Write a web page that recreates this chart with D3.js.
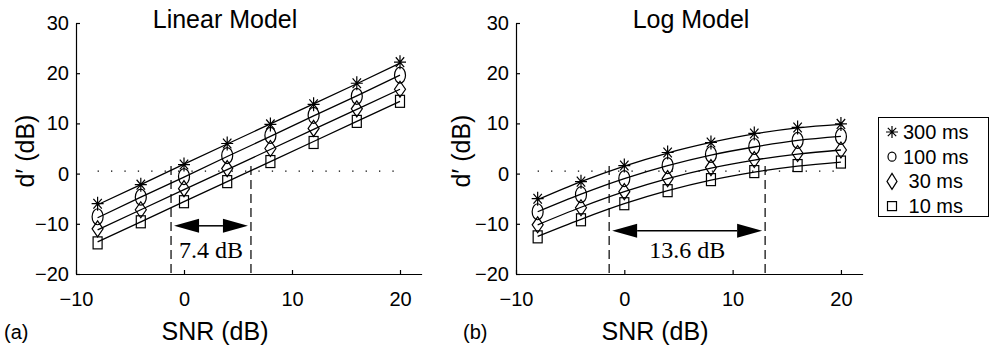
<!DOCTYPE html>
<html>
<head>
<meta charset="utf-8">
<script src="https://cdn.jsdelivr.net/npm/d3@7"></script>
<style>
body {margin:0; background:#fff;}
svg text {font-family:'Liberation Sans',Arial,Helvetica,sans-serif; fill:#000;}
.axis text {font-size:20px; font-family:'Liberation Sans',Arial,sans-serif;}
.axis path, .axis line {stroke:#000; stroke-width:1.2;}
.serif {font-family:'Liberation Serif','Times New Roman',serif !important;}
</style>
</head>
<body>
<svg id=fig width=990 height=350></svg>
<script>

// ---- data ----
var snr=[-8,-4,0,4,8,12,16,20];
var durations=['300 ms','100 ms',' 30 ms',' 10 ms'];
var marker_types=['star','circle','diamond','square'];
var x_ticks=[-10,0,10,20];
var y_ticks=[-20,-10,0,10,20,30];
var threshold=0.5;

// linear model: measured points and fitted lines
var lin_300=[-6.0,-2.2,1.8,6.0,9.8,13.8,18.0,22.2];
var lin_100=[-8.6,-4.7,-0.6,3.6,7.6,11.6,15.4,19.6];
var lin_30=[-11.0,-7.2,-3.0,1.0,5.0,9.0,12.9,16.8];
var lin_10=[-13.8,-9.6,-5.6,-1.6,2.4,6.2,10.4,14.4];
var lin_fit_300=[-6.2,-2.2,1.9,5.9,9.9,13.9,17.9,22.0];
var lin_fit_100=[-8.8,-4.7,-0.7,3.4,7.4,11.5,15.5,19.6];
var lin_fit_30=[-11.2,-7.2,-3.2,0.8,4.8,8.8,12.8,16.8];
var lin_fit_10=[-13.6,-9.6,-5.6,-1.6,2.4,6.4,10.4,14.4];
var lin_span=[-1.2,6.2];
var lin_span_label='7.4 dB';

// log model
var log_300=[-5.0,-1.6,1.6,4.2,6.2,8.0,9.2,9.9];
var log_100=[-7.6,-4.2,-1.0,1.6,3.8,5.4,6.6,7.4];
var log_30=[-10.2,-6.8,-3.6,-1.0,1.2,2.8,4.0,4.7];
var log_10=[-12.6,-9.2,-6.0,-3.4,-1.2,0.4,1.6,2.3];
var log_fit_300=[-5.2,-1.6,1.5,4.1,6.2,7.9,9.1,9.8];
var log_fit_100=[-7.6,-4.1,-1.0,1.6,3.7,5.3,6.6,7.4];
var log_fit_30=[-10.2,-6.7,-3.6,-1.0,1.1,2.7,3.9,4.7];
var log_fit_10=[-12.5,-9.1,-6.0,-3.4,-1.3,0.3,1.5,2.3];
var log_span=[-1.4,13.0];
var log_span_label='13.6 dB';

var svg=d3.select('#fig');
svg.append('rect').attr('width',990).attr('height',350).attr('fill','#fff');

draw_panel({
	left:76, right:421.6, title:'Linear Model', title_x:225, letter:'(a)', letter_x:4, ylabel_x:34, xlabel_x:215,
	series:[lin_300,lin_100,lin_30,lin_10], fits:[lin_fit_300,lin_fit_100,lin_fit_30,lin_fit_10],
	curve:d3.curveLinear, span:lin_span, span_label:lin_span_label, arrow_y:-10.4
});
draw_panel({
	left:516, right:862.6, title:'Log Model', title_x:691, letter:'(b)', letter_x:463, ylabel_x:470, xlabel_x:655,
	series:[log_300,log_100,log_30,log_10], fits:[log_fit_300,log_fit_100,log_fit_30,log_fit_10],
	curve:d3.curveMonotoneX, span:log_span, span_label:log_span_label, arrow_y:-11.4
});
draw_legend();

function draw_panel(P) {
	var g=svg.append('g');
	var xs=d3.scaleLinear().domain([-10,22]).range([P.left,P.right]);
	var ys=d3.scaleLinear().domain([-20,30]).range([274,23]);

	g.append('g').attr('class','axis')
		.attr('transform','translate(0,'+ys(-20)+')')
		.call(d3.axisBottom(xs).tickValues(x_ticks).tickSizeInner(-4).tickSizeOuter(0).tickPadding(18));
	g.append('g').attr('class','axis')
		.attr('transform','translate('+xs(-10)+',0)')
		.call(d3.axisLeft(ys).tickValues(y_ticks).tickSizeInner(-4).tickSizeOuter(0).tickPadding(7));

	// threshold (dotted)
	g.append('line')
		.attr('x1',xs(snr[0])).attr('x2',xs(snr[snr.length-1]))
		.attr('y1',ys(threshold)).attr('y2',ys(threshold))
		.attr('stroke','#000').attr('stroke-width',1.3)
		.attr('stroke-dasharray','1.3,12.1');

	// fitted lines
	var line=d3.line().x(function(d,i){return xs(snr[i]);}).y(function(d){return ys(d);}).curve(P.curve);
	for (var k=0; k<P.fits.length; k++) {
		g.append('path').attr('d',line(P.fits[k]))
			.attr('fill','none').attr('stroke','#000').attr('stroke-width',1.3);
	}
	// markers
	for (var k=0; k<P.series.length; k++) {
		for (var i=0; i<snr.length; i++) {
			draw_marker(g,marker_types[k],xs(snr[i]),ys(P.series[k][i]),false);
		}
	}

	// dashed boundaries and arrow
	for (var j=0; j<2; j++) {
		g.append('line')
			.attr('x1',xs(P.span[j])).attr('x2',xs(P.span[j]))
			.attr('y1',ys(1.5)).attr('y2',ys(-20))
			.attr('stroke','#000').attr('stroke-width',1.2)
			.attr('stroke-dasharray','9,5');
	}
	var ax1=xs(P.span[0])+3, ax2=xs(P.span[1])-3, ay=ys(P.arrow_y);
	var hl=25, hw=7;
	g.append('line').attr('x1',ax1+hl).attr('x2',ax2-hl).attr('y1',ay).attr('y2',ay)
		.attr('stroke','#000').attr('stroke-width',1.5);
	g.append('path').attr('d','M'+ax1+','+ay+'L'+(ax1+hl)+','+(ay-hw)+'L'+(ax1+hl)+','+(ay+hw)+'Z').attr('fill','#000');
	g.append('path').attr('d','M'+ax2+','+ay+'L'+(ax2-hl)+','+(ay-hw)+'L'+(ax2-hl)+','+(ay+hw)+'Z').attr('fill','#000');
	g.append('text').attr('class','serif')
		.attr('x',(xs(P.span[0])+xs(P.span[1]))/2).attr('y',258)
		.attr('text-anchor','middle').style('font-size','24px')
		.text(P.span_label);

	// text
	g.append('text').attr('x',P.title_x).attr('y',28).attr('text-anchor','middle')
		.style('font-size','25px').text(P.title);
	g.append('text').attr('x',P.xlabel_x).attr('y',340).attr('text-anchor','middle')
		.style('font-size','25px').text('SNR (dB)');
	g.append('text').attr('transform','translate('+P.ylabel_x+',151) rotate(-90)')
		.attr('text-anchor','middle').style('font-size','25px').text('d\u2032 (dB)');
	g.append('text').attr('x',P.letter_x).attr('y',339).style('font-size','20px').text(P.letter);
}

function draw_marker(g,type,cx,cy,small) {
	var st={'fill':'none','stroke':'#000','stroke-width':1.2};
	var el;
	if (type=='star') {
		var rx=6, ry=small?6:7, dx=rx*0.7, dy=ry*0.7;
		el=g.append('path').attr('d',
			'M'+(cx-rx)+','+cy+'H'+(cx+rx)+
			'M'+cx+','+(cy-ry)+'V'+(cy+ry)+
			'M'+(cx-dx)+','+(cy-dy)+'L'+(cx+dx)+','+(cy+dy)+
			'M'+(cx-dx)+','+(cy+dy)+'L'+(cx+dx)+','+(cy-dy));
	}
	else if (type=='circle') {
		el=g.append('ellipse').attr('cx',cx).attr('cy',cy)
			.attr('rx',small?4:5.5).attr('ry',small?4.5:8);
	}
	else if (type=='diamond') {
		var w=small?5:5.5, h=small?8:8;
		el=g.append('path').attr('d','M'+cx+','+(cy-h)+'L'+(cx+w)+','+cy+'L'+cx+','+(cy+h)+'L'+(cx-w)+','+cy+'Z');
	}
	else {
		var w=4.5, h=small?4.5:6;
		el=g.append('rect').attr('x',cx-w).attr('y',cy-h).attr('width',2*w).attr('height',2*h);
	}
	for (var key in st) el.attr(key,st[key]);
}

function draw_legend() {
	var g=svg.append('g');
	g.append('rect').attr('x',878.5).attr('y',117.5).attr('width',110).attr('height',99)
		.attr('fill','#fff').attr('stroke','#000').attr('stroke-width',1);
	for (var k=0; k<durations.length; k++) {
		var cy=132+k*24.7;
		draw_marker(g,marker_types[k],892,cy,true);
		g.append('text').attr('x',903).attr('y',cy+7)
			.style('font-size','20px').style('white-space','pre')
			.text(durations[k]);
	}
}
</script>
</body>
</html>
